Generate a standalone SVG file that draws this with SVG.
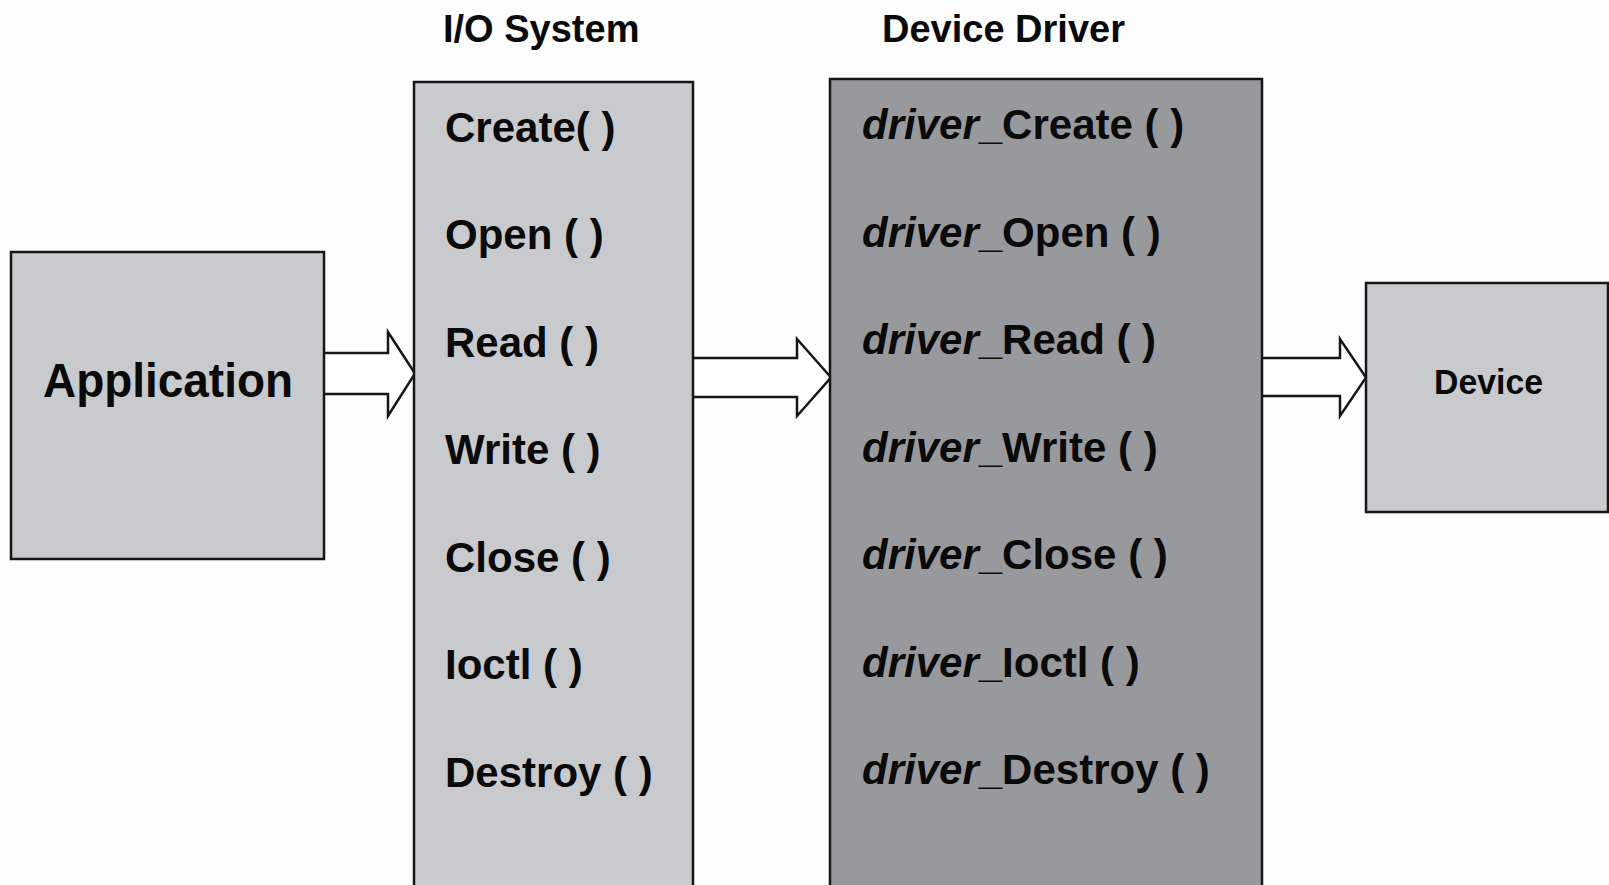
<svg xmlns="http://www.w3.org/2000/svg" width="1609" height="885" viewBox="0 0 1609 885">
  <style>
    .box { stroke: #161616; stroke-width: 2.5; }
    .light { fill: #c9cacd; }
    .dark { fill: #98999d; }
    .arrow { fill: #ffffff; stroke: #161616; stroke-width: 2.5; stroke-linejoin: miter; }
    text { font-family: "Liberation Sans", Arial, Helvetica, sans-serif; font-weight: bold; fill: #0a0a0a; }
    .title { font-size: 38px; }
    .item { font-size: 42px; }
    .it { font-style: italic; }
  </style>

  <rect x="0" y="0" width="1609" height="885" fill="#fdfdfd"/>

  <!-- block arrows between the layers -->
  <g id="connectors">
    <path class="arrow" d="M324,353 H388 V332 L415,373.5 L388,416 V394 H324"/>
    <path class="arrow" d="M693,358 H797 V339 L831,377.5 L797,416 V397 H693"/>
    <path class="arrow" d="M1262,358 H1340 V339 L1366,377.5 L1340,416 V396 H1262"/>
  </g>

  <g id="application">
    <rect class="box light" x="11" y="252" width="313" height="307"/>
    <text x="43" y="397" font-size="48" textLength="250" lengthAdjust="spacingAndGlyphs">Application</text>
  </g>

  <g id="io-system">
    <text class="title" x="443" y="42">I/O System</text>
    <rect class="box light" x="414" y="82" width="279" height="810"/>
    <text class="item" x="445" y="141.5">Create( )</text>
    <text class="item" x="445" y="249">Open ( )</text>
    <text class="item" x="445" y="356.5">Read ( )</text>
    <text class="item" x="445" y="464">Write ( )</text>
    <text class="item" x="445" y="571.5">Close ( )</text>
    <text class="item" x="445" y="679">Ioctl ( )</text>
    <text class="item" x="445" y="786.5">Destroy ( )</text>
  </g>

  <g id="device-driver">
    <text class="title" x="882" y="42">Device Driver</text>
    <rect class="box dark" x="830" y="79" width="432" height="813"/>
    <text class="item" x="862" y="139"><tspan class="it">driver</tspan>_Create ( )</text>
    <text class="item" x="862" y="246.5"><tspan class="it">driver</tspan>_Open ( )</text>
    <text class="item" x="862" y="354"><tspan class="it">driver</tspan>_Read ( )</text>
    <text class="item" x="862" y="461.5"><tspan class="it">driver</tspan>_Write ( )</text>
    <text class="item" x="862" y="569"><tspan class="it">driver</tspan>_Close ( )</text>
    <text class="item" x="862" y="676.5"><tspan class="it">driver</tspan>_Ioctl ( )</text>
    <text class="item" x="862" y="784"><tspan class="it">driver</tspan>_Destroy ( )</text>
  </g>

  <g id="device">
    <rect class="box light" x="1366" y="283" width="242" height="229"/>
    <text x="1434" y="394" font-size="35" textLength="109" lengthAdjust="spacingAndGlyphs">Device</text>
  </g>
</svg>
